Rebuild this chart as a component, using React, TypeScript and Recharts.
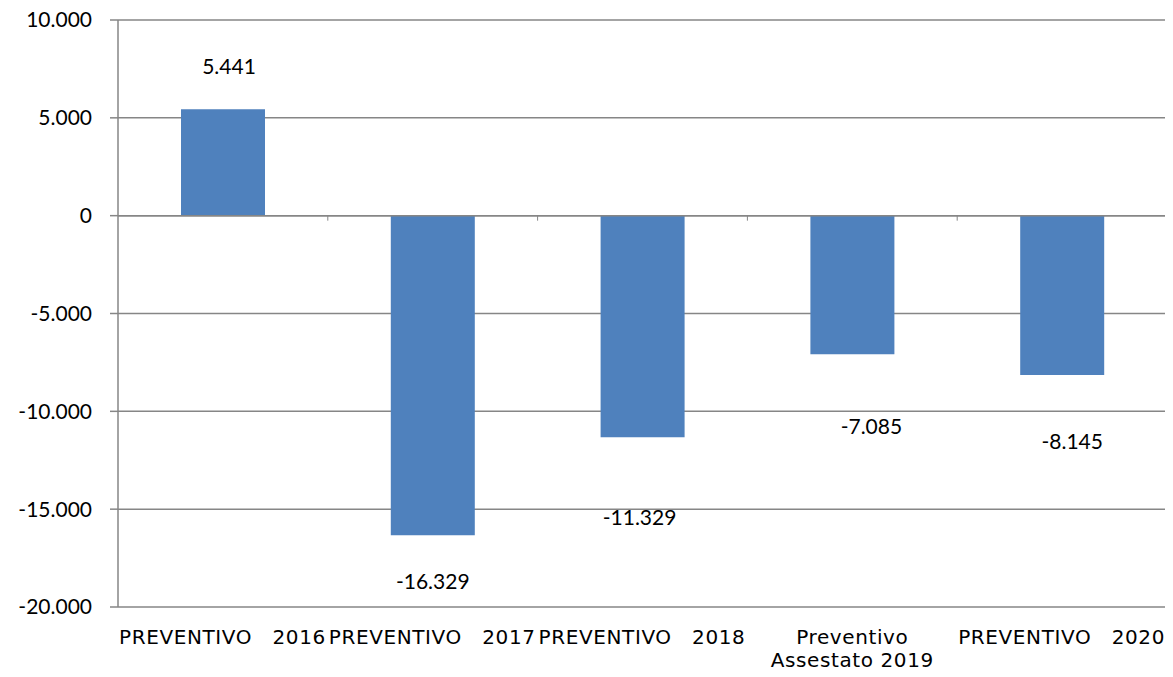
import { Bar, BarChart, CartesianGrid, LabelList, ReferenceLine, XAxis, YAxis } from "recharts";

const categories = [
  "PREVENTIVO  2016",
  "PREVENTIVO  2017",
  "PREVENTIVO  2018",
  "Preventivo Assestato 2019",
  "PREVENTIVO  2020"
];
const values = [5441, -16329, -11329, -7085, -8145];
const yTicks = [-20000, -15000, -10000, -5000, 0, 5000, 10000];

// label nudges (dx, dy) away from the bar end, as placed in the original
const labelShift: [number, number][] = [
  [6, -44],
  [0, 45],
  [-3, 79],
  [19, 71],
  [10, 65]
];

const data = categories.map((name, i) => ({ name, value: values[i] }));

const W = 1173;
const H = 677;
const MARGIN = { top: 20, right: 6, bottom: 0, left: 0 };
const Y_WIDTH = 118;
const GRID = "#868686";
const BAR = "#4F81BD";
const band = (W - MARGIN.left - MARGIN.right - Y_WIDTH) / categories.length;

const fmt = (n: number) => {
  const s = Math.abs(n).toString().replace(/\B(?=(\d{3})+(?!\d))/g, ".");
  return n < 0 ? "-" + s : s;
};

function XTick(props: any) {
  const { x, y, payload } = props;
  const label: string = payload.value;
  const font = { fontFamily: "DejaVu Sans", fontSize: 20, letterSpacing: 0.6, fill: "#000" };
  if (label.includes("  ")) {
    const [left, right] = label.split(/\s{2,}/);
    return (
      <g>
        <text x={x - band / 2 + 1} y={y + 29} textAnchor="start" {...font}>
          {left}
        </text>
        <text x={x + band / 2 - 2} y={y + 29} textAnchor="end" {...font}>
          {right}
        </text>
      </g>
    );
  }
  const first = label.split(" ")[0];
  const rest = label.slice(first.length + 1);
  return (
    <g>
      <text x={x} y={y + 29} textAnchor="middle" {...font}>
        {first}
      </text>
      <text x={x} y={y + 52} textAnchor="middle" {...font}>
        {rest}
      </text>
    </g>
  );
}

// y tick label; the first one also draws the left edge of the chart frame
function YTick(props: any) {
  const { x, y, payload, index } = props;
  return (
    <g>
      {index === 0 && <line x1={2} y1={0} x2={2} y2={H} stroke="#8c8c8c" strokeWidth={2} />}
      <text x={x} y={y} dy="0.355em" textAnchor="end" fontFamily="Lato" fontSize={21} fill="#000">
        {fmt(payload.value)}
      </text>
    </g>
  );
}

function ValueLabel(props: any) {
  const { x, y, width, height, value, index } = props;
  const top = Math.min(y, y + height);
  const bottom = Math.max(y, y + height);
  const [dx, dy] = labelShift[index] || [0, 0];
  const endY = value >= 0 ? top : bottom;
  return (
    <text
      x={x + width / 2 + dx}
      y={endY + dy}
      textAnchor="middle"
      dominantBaseline="central"
      fontFamily="Lato"
      fontSize={21}
      fill="#000"
    >
      {fmt(value)}
    </text>
  );
}

function ZeroAxis(props: any) {
  const { x1, y1, x2, y2 } = props;
  const marks = [];
  for (let i = 1; i < categories.length; i++) {
    const tx = x1 + i * band;
    marks.push(<line key={i} x1={tx} y1={y1} x2={tx} y2={y1 + 5} stroke={GRID} strokeWidth={1} />);
  }
  return (
    <g>
      <line x1={x1} y1={y1} x2={x2} y2={y2} stroke={GRID} strokeWidth={1.5} />
      {marks}
    </g>
  );
}

export default function App() {
  return (
    <div style={{ margin: -8, width: W, height: H, background: "#fff" }}>
      <BarChart width={W} height={H} data={data} margin={MARGIN}>
        <CartesianGrid vertical={false} stroke={GRID} strokeWidth={1.5} />
        <XAxis
          dataKey="name"
          axisLine={false}
          tickLine={false}
          interval={0}
          height={70}
          tick={<XTick />}
        />
        <YAxis
          width={Y_WIDTH}
          domain={[-20000, 10000]}
          ticks={yTicks}
          interval={0}
          tickSize={8}
          tickMargin={18}
          axisLine={{ stroke: GRID, strokeWidth: 1.5 }}
          tickLine={{ stroke: GRID, strokeWidth: 1.5 }}
          tick={<YTick />}
        />
        <ReferenceLine y={0} shape={<ZeroAxis />} />
        <Bar dataKey="value" fill={BAR} barSize={84} isAnimationActive={false}>
          <LabelList dataKey="value" content={<ValueLabel />} />
        </Bar>
      </BarChart>
    </div>
  );
}
